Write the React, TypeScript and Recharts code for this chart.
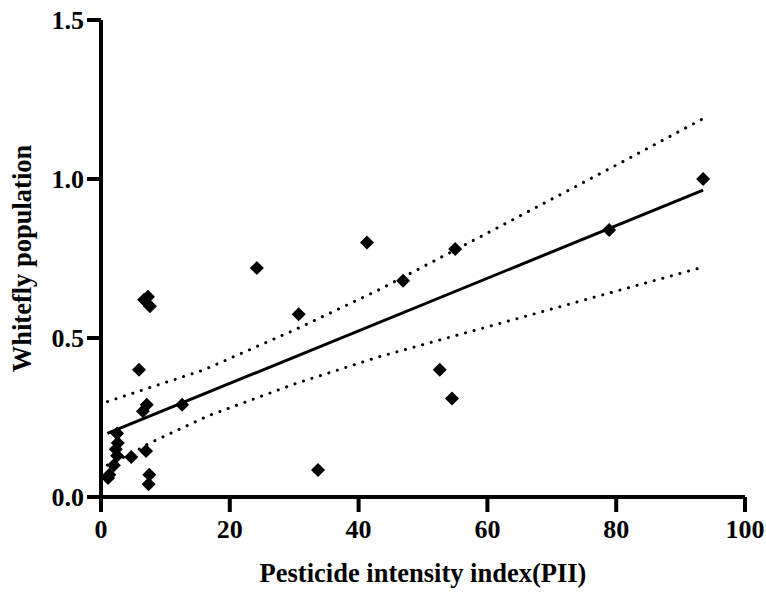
import React from 'react';
import { ScatterChart, Scatter, XAxis, YAxis, Label } from 'recharts';

// observed sites: PII vs whitefly population
const piiValues = [1.1, 1.3, 2.0, 2.5, 2.3, 2.6, 2.5, 4.7, 5.9, 6.5, 7.1, 6.7, 7.3, 7.6, 7.0, 7.5, 7.4, 12.6, 24.2, 30.7, 33.7, 41.3, 46.9, 52.6, 54.5, 55.0, 78.9, 93.5];
const whiteflyValues = [0.06, 0.07, 0.10, 0.13, 0.15, 0.17, 0.20, 0.126, 0.40, 0.27, 0.29, 0.62, 0.63, 0.60, 0.145, 0.07, 0.04, 0.29, 0.72, 0.575, 0.085, 0.80, 0.68, 0.40, 0.31, 0.78, 0.84, 1.0];

// fitted line and 95% band
const fitX = [1, 93.5];
const fitY = [0.20, 0.965];
const upperX = [1, 16, 30, 43, 60, 80.6, 93.5];
const upperY = [0.30, 0.40, 0.525, 0.65, 0.83, 1.05, 1.19];
const lowerX = [1, 5, 7.6, 16.6, 30, 43, 60, 93.5];
const lowerY = [0.10, 0.14, 0.17, 0.255, 0.355, 0.44, 0.535, 0.723];

const xTicks = [0, 20, 40, 60, 80, 100];
const yTicks = [0, 0.5, 1.0, 1.5];

const zip = (xs: number[], ys: number[]) => xs.map((x, i) => ({ x, y: ys[i] }));

const points = zip(piiValues, whiteflyValues);
const fitLine = zip(fitX, fitY);
const upperBand = zip(upperX, upperY);
const lowerBand = zip(lowerX, lowerY);

const FONT = '"Liberation Serif", "Times New Roman", serif';

function Diamond(props: any) {
  const { cx, cy } = props;
  if (cx == null || cy == null) return <g />;
  const r = 7;
  return <polygon points={`${cx},${cy - r} ${cx + r},${cy} ${cx},${cy + r} ${cx - r},${cy}`} fill="#000" />;
}

const NoDot = () => <g />;

const tickStyle = { fontSize: 26, fontWeight: 'bold', fill: '#000', fontFamily: FONT };
const titleStyle = { fontSize: 26.5, fontWeight: 'bold', fill: '#000', fontFamily: FONT };
const axisLine = { stroke: '#000', strokeWidth: 4 };
const dotted = { stroke: '#000', strokeWidth: 3, strokeDasharray: '0.1 8.8', strokeLinecap: 'round' as const };

export default function App() {
  return (
    <div style={{ position: 'absolute', left: 0, top: 0, width: 766, height: 595, background: '#fff' }}>
      <ScatterChart width={766} height={595} margin={{ top: 20, right: 21, bottom: 0, left: 0 }}>
        <XAxis
          type="number"
          dataKey="x"
          domain={[0, 100]}
          ticks={xTicks}
          allowDataOverflow
          height={98}
          axisLine={axisLine}
          tickLine={axisLine}
          tickSize={15}
          tickMargin={8}
          tick={tickStyle}
        >
          <Label
            value="Pesticide intensity index(PII)"
            position="insideBottom"
            offset={13}
            style={titleStyle}
          />
        </XAxis>
        <YAxis
          type="number"
          dataKey="y"
          domain={[0, 1.5]}
          ticks={yTicks}
          allowDataOverflow
          width={101}
          axisLine={axisLine}
          tickLine={axisLine}
          tickSize={14}
          tickMargin={3}
          tick={tickStyle}
          tickFormatter={(v: number) => v.toFixed(1)}
        >
          <Label
            value="Whitefly population"
            angle={-90}
            position="insideLeft"
            offset={22}
            style={{ ...titleStyle, textAnchor: 'middle' }}
          />
        </YAxis>
        <Scatter data={upperBand} line={dotted} lineType="joint" shape={NoDot} isAnimationActive={false} />
        <Scatter data={lowerBand} line={dotted} lineType="joint" shape={NoDot} isAnimationActive={false} />
        <Scatter data={fitLine} line={{ stroke: '#000', strokeWidth: 3 }} lineType="joint" shape={NoDot} isAnimationActive={false} />
        <Scatter data={points} shape={Diamond} isAnimationActive={false} />
      </ScatterChart>
    </div>
  );
}
